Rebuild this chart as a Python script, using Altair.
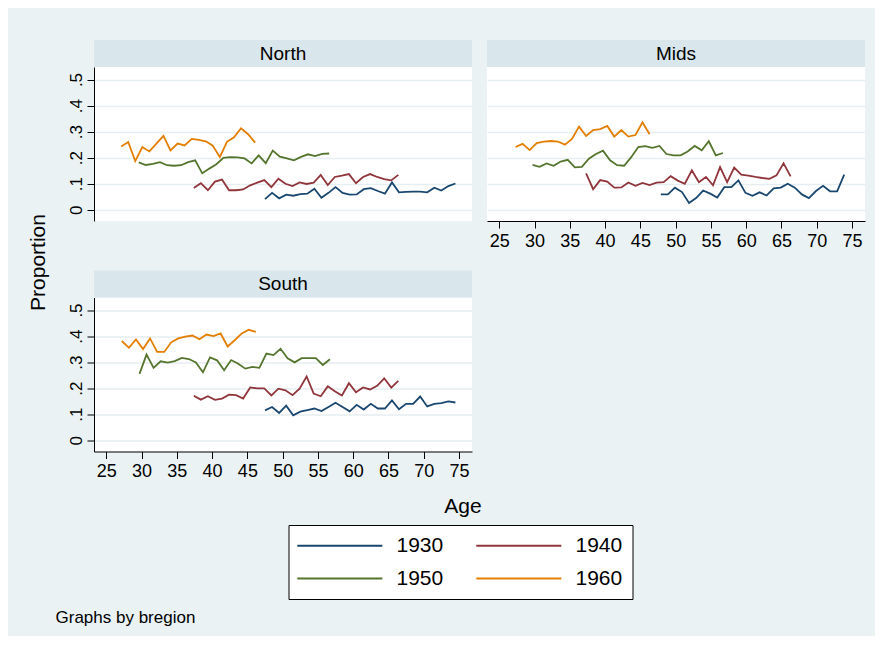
import altair as alt
import pandas as pd

# ---------------- data ----------------
cohorts = ["1930", "1940", "1950", "1960"]
cohort_colors = ["#1A476F", "#90353B", "#55752F", "#E37E00"]
regions = ["North", "Mids", "South"]
x_ticks = [25, 30, 35, 40, 45, 50, 55, 60, 65, 70, 75]
y_ticks = [0, 0.1, 0.2, 0.3, 0.4, 0.5]

# first age observed for each cohort line (yearly observations after that)
start_age = {
    "North": {"1930": 47.5, "1940": 37.4, "1950": 29.6, "1960": 27.1},
    "Mids":  {"1930": 47.9, "1940": 37.3, "1950": 29.7, "1960": 27.3},
    "South": {"1930": 47.5, "1940": 37.4, "1950": 29.7, "1960": 27.2},
}

north_1930 = [.041, .065, .044, .058, .054, .060, .062, .081, .046, .065, .087, .065, .058, .059,
              .079, .083, .072, .062, .105, .067, .069, .070, .070, .067, .085, .074, .091, .101]
north_1940 = [.084, .102, .075, .108, .116, .075, .075, .078, .094, .104, .114, .087, .119, .100, .091,
              .105, .099, .104, .134, .095, .126, .131, .137, .102, .126, .137, .126, .118, .113, .134]
north_1950 = [.182, .172, .176, .183, .171, .169, .171, .183, .190, .140, .158, .175, .199, .202,
              .201, .197, .178, .209, .179, .227, .204, .197, .190, .203, .213, .206, .215, .216]
north_1960 = [.243, .260, .187, .241, .224, .254, .284, .228, .254, .247, .272, .268, .263, .246,
              .202, .261, .278, .313, .290, .258]

mids_1930 = [.059, .059, .085, .068, .026, .045, .074, .062, .047, .087, .087, .113, .065, .054,
             .067, .055, .082, .085, .100, .085, .059, .045, .072, .092, .071, .071, .135]
mids_1940 = [.140, .079, .114, .108, .085, .086, .105, .092, .103, .095, .104, .106, .129, .112, .100,
             .151, .106, .126, .094, .164, .106, .162, .135, .131, .126, .122, .119, .132, .178, .128]
mids_1950 = [.172, .165, .178, .169, .185, .192, .163, .165, .196, .214, .227, .190, .171, .169,
             .202, .241, .244, .238, .245, .214, .209, .209, .224, .245, .228, .263, .209, .218]
mids_1960 = [.241, .253, .229, .256, .262, .264, .262, .250, .272, .319, .283, .306, .310, .322,
             .281, .306, .281, .287, .336, .290]

south_1930 = [.115, .128, .105, .133, .096, .110, .116, .122, .112, .128, .144, .128, .111, .136,
              .118, .140, .122, .122, .153, .119, .140, .140, .168, .130, .140, .143, .149, .145]
south_1940 = [.171, .156, .169, .155, .160, .175, .173, .160, .203, .199, .199, .172, .198, .192, .173,
              .198, .245, .179, .169, .207, .188, .172, .219, .184, .203, .195, .209, .238, .202, .228]
south_1950 = [.255, .329, .278, .303, .298, .304, .316, .312, .299, .261, .318, .307, .269, .308,
              .294, .275, .282, .278, .333, .327, .351, .315, .299, .315, .315, .315, .289, .311]
south_1960 = [.381, .355, .387, .350, .391, .339, .339, .376, .391, .398, .402, .388, .406, .400,
              .410, .360, .384, .410, .424, .416]

series = {
    "North": {"1930": north_1930, "1940": north_1940, "1950": north_1950, "1960": north_1960},
    "Mids":  {"1930": mids_1930, "1940": mids_1940, "1950": mids_1950, "1960": mids_1960},
    "South": {"1930": south_1930, "1940": south_1940, "1950": south_1950, "1960": south_1960},
}

rows = []
for reg in regions:
    for c in cohorts:
        a0 = start_age[reg][c]
        for i, v in enumerate(series[reg][c]):
            rows.append({"region": reg, "cohort": c, "age": round(a0 + i, 2), "prop": v})
df = pd.DataFrame(rows)

# ---------------- styling ----------------
FONT = "Liberation Sans"
W, H = 378, 154
STRIP = 27
XDOM = [23.25, 76.85]
YDOM = [-0.043, 0.548]

# long legend key lines: a custom path 16 units wide, scaled by sqrt(size)/2
SYM_SIZE = 113
legend = alt.Legend(
    title=None, orient="none", legendX=194.5, legendY=458,
    columns=2, direction="horizontal",
    symbolType="M-2.2,0H13.8", symbolSize=SYM_SIZE, symbolStrokeWidth=2,
    labelFontSize=21, labelFont=FONT, labelColor="black", labelOffset=77,
    columnPadding=28, rowPadding=11, padding=10, labelLimit=0,
    strokeColor="black", fillColor="white", cornerRadius=0,
)

ylabel_expr = "datum.value == 0 ? '0' : replace(format(datum.value, '.1f'), '0.', '.')"


def y_axis(show, title=None):
    if not show:
        return alt.Axis(values=y_ticks, grid=True, domain=False, ticks=False, labels=False, title=None)
    kw = dict(values=y_ticks, grid=True, domain=True, ticks=True, tickSize=7,
              labelExpr=ylabel_expr, labelAngle=270, labelAlign="center", labelBaseline="bottom",
              labelFontSize=17, labelPadding=2)
    if title:
        kw.update(title=title, titleAngle=270, titleX=-55.5, titleY=195, titleFontSize=21,
                  titleAlign="center", titleBaseline="middle", titleFontWeight="normal")
    else:
        kw.update(title=None)
    return alt.Axis(**kw)


def x_axis(show, title=None):
    if not show:
        return None
    kw = dict(values=x_ticks, grid=False, domain=True, ticks=True, tickSize=7,
              labelFontSize=18, labelPadding=4, labelFlush=False, labelOverlap=False)
    if title:
        kw.update(title=title, titleX=368.5, titleY=55, titleFontSize=21,
                  titleAlign="center", titleBaseline="middle", titleFontWeight="normal")
    else:
        kw.update(title=None)
    return alt.Axis(**kw)


def panel(reg, show_x, show_y, ytitle=None, xtitle=None, note=False):
    strip_df = pd.DataFrame({"t": [reg]})
    strip = alt.Chart(strip_df).mark_rect(color="#D9E6EB").encode(
        x=alt.value(0), x2=alt.value(W), y=alt.value(-STRIP), y2=alt.value(0))
    label = alt.Chart(strip_df).mark_text(fontSize=19, font=FONT, color="black",
                                          align="center", baseline="middle").encode(
        text="t:N", x=alt.value(W / 2), y=alt.value(-STRIP / 2))
    lines = alt.Chart(df[df.region == reg]).mark_line(strokeWidth=1.8).encode(
        x=alt.X("age:Q", scale=alt.Scale(domain=XDOM, nice=False, zero=False),
                axis=x_axis(show_x, xtitle)),
        y=alt.Y("prop:Q", scale=alt.Scale(domain=YDOM, nice=False, zero=False),
                axis=y_axis(show_y, ytitle)),
        color=alt.Color("cohort:N", scale=alt.Scale(domain=cohorts, range=cohort_colors),
                        legend=legend),
        order="age:Q",
    )
    layers = [strip, label, lines]
    if note:
        nd = pd.DataFrame({"t": ["Graphs by bregion"]})
        layers.append(alt.Chart(nd).mark_text(fontSize=17, font=FONT, color="black",
                                              align="left", baseline="middle").encode(
            text="t:N", x=alt.value(-38.5), y=alt.value(320.5)))
    return alt.layer(*layers).properties(width=W, height=H)


north = panel("North", show_x=False, show_y=True, ytitle="Proportion")
mids = panel("Mids", show_x=True, show_y=False)
south = panel("South", show_x=True, show_y=True, xtitle="Age", note=True)

chart = alt.concat(
    north, mids, south, columns=2,
    spacing={"row": 76.5, "column": 15}, bounds="flush",
).configure(
    background="#EAF2F3",
    padding={"left": 19, "top": 32, "right": 10, "bottom": 10},
    font=FONT,
).configure_view(fill="white", stroke=None).configure_axis(
    gridColor="#E6EEF1", gridWidth=1.3, domainColor="black", domainWidth=1,
    tickColor="black", labelColor="black", titleColor="black",
    labelFont=FONT, titleFont=FONT,
)

chart.save("out.html", embed_options={"renderer": "svg", "actions": False})
